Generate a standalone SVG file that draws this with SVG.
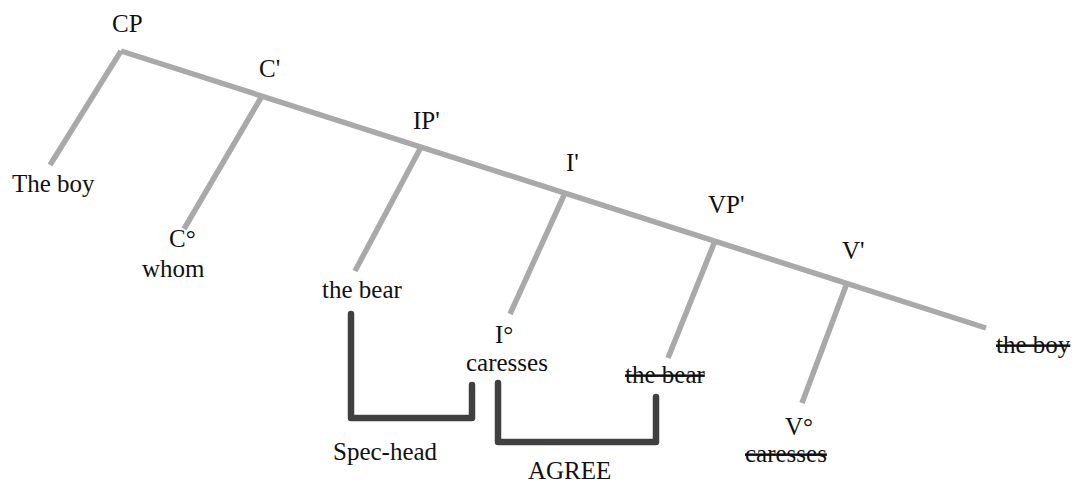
<svg xmlns="http://www.w3.org/2000/svg" width="1076" height="484" viewBox="0 0 1076 484">
<style>
text{font-family:"Liberation Serif","Times New Roman",serif;font-size:25px;fill:#111}
.strike{text-decoration:line-through}
.tree{stroke:#a9a9a9;stroke-width:5.5;stroke-linecap:butt;fill:none}
.bracket{stroke:#404040;stroke-width:6.5;stroke-linecap:round;stroke-linejoin:round;fill:none}
</style>
<rect width="1076" height="484" fill="#fff"/>
<g id="connectors">
<line class="tree" x1="121" y1="51" x2="986" y2="328"/>
<line class="tree" x1="121" y1="51" x2="50" y2="165"/>
<line class="tree" x1="262" y1="96" x2="184" y2="229"/>
<line class="tree" x1="420" y1="149" x2="355" y2="271"/>
<line class="tree" x1="565" y1="193" x2="510" y2="314"/>
<line class="tree" x1="715" y1="241" x2="668" y2="358"/>
<line class="tree" x1="847" y1="283" x2="802" y2="403"/>
<polyline class="bracket" points="351,314 351,418 472,418 472,385"/>
<polyline class="bracket" points="498,383 498,442 656,442 656,397"/>
</g>
<g id="node-CP"><text x="112" y="32">CP</text></g>
<g id="node-Cbar"><text x="259" y="77">C'</text></g>
<g id="node-IP"><text x="413" y="129">IP'</text></g>
<g id="node-Ibar"><text x="566" y="171">I'</text></g>
<g id="node-VP"><text x="708" y="213">VP'</text></g>
<g id="node-Vbar"><text x="842" y="259">V'</text></g>
<g id="node-theboy"><text x="12" y="192">The boy</text></g>
<g id="node-C0"><text x="169" y="247">C°</text><text x="142" y="277">whom</text></g>
<g id="node-thebear"><text x="322" y="298">the bear</text></g>
<g id="node-I0"><text x="495" y="343">I°</text><text x="466" y="371">caresses</text></g>
<g id="node-thebear-trace"><text class="strike" x="625" y="383">the bear</text></g>
<g id="node-V0"><text x="785" y="435">V°</text><text class="strike" x="745" y="462">caresses</text></g>
<g id="node-theboy-trace"><text class="strike" x="996" y="353">the boy</text></g>
<g id="label-spechead"><text x="333" y="460">Spec-head</text></g>
<g id="label-agree"><text x="528" y="479">AGREE</text></g>
</svg>
